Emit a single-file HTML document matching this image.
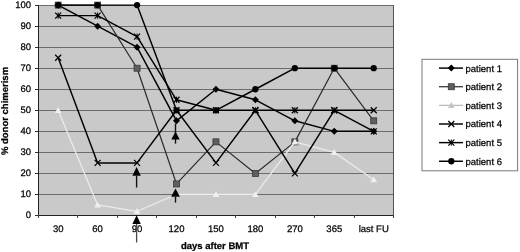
<!DOCTYPE html>
<html><head><meta charset="utf-8"><style>
html,body{margin:0;padding:0;background:#fff;}
body{width:520px;height:252px;overflow:hidden;}
svg{display:block;font-family:"Liberation Sans", sans-serif;will-change:transform;}
text{stroke:#000;stroke-width:0.25px;text-rendering:geometricPrecision;}
</style></head><body>
<svg width="520" height="252" viewBox="0 0 520 252">
<g>
<rect x="0" y="0" width="520" height="252" fill="#fff"/>
<rect x="38" y="5" width="355" height="210" fill="#c9c9c9"/>
<line x1="38" y1="5.5" x2="393" y2="5.5" stroke="#6c6c6c" stroke-width="1"/>
<line x1="38" y1="26.5" x2="393" y2="26.5" stroke="#6c6c6c" stroke-width="1"/>
<line x1="38" y1="47.5" x2="393" y2="47.5" stroke="#6c6c6c" stroke-width="1"/>
<line x1="38" y1="68.5" x2="393" y2="68.5" stroke="#6c6c6c" stroke-width="1"/>
<line x1="38" y1="89.5" x2="393" y2="89.5" stroke="#6c6c6c" stroke-width="1"/>
<line x1="38" y1="110.5" x2="393" y2="110.5" stroke="#6c6c6c" stroke-width="1"/>
<line x1="38" y1="131.5" x2="393" y2="131.5" stroke="#6c6c6c" stroke-width="1"/>
<line x1="38" y1="152.5" x2="393" y2="152.5" stroke="#6c6c6c" stroke-width="1"/>
<line x1="38" y1="173.5" x2="393" y2="173.5" stroke="#6c6c6c" stroke-width="1"/>
<line x1="38" y1="194.5" x2="393" y2="194.5" stroke="#6c6c6c" stroke-width="1"/>
<line x1="38" y1="215.5" x2="393" y2="215.5" stroke="#6c6c6c" stroke-width="1"/>
<line x1="393.5" y1="5" x2="393.5" y2="215" stroke="#555" stroke-width="1"/>
<line x1="38.5" y1="5" x2="38.5" y2="216" stroke="#222" stroke-width="1"/>
<line x1="38" y1="215.5" x2="394" y2="215.5" stroke="#222" stroke-width="1.2"/>
<line x1="35" y1="5.5" x2="38" y2="5.5" stroke="#333" stroke-width="1"/>
<text x="31" y="8.3" text-anchor="end" font-size="9.5">100</text>
<line x1="35" y1="26.5" x2="38" y2="26.5" stroke="#333" stroke-width="1"/>
<text x="31" y="29.3" text-anchor="end" font-size="9.5">90</text>
<line x1="35" y1="47.5" x2="38" y2="47.5" stroke="#333" stroke-width="1"/>
<text x="31" y="50.3" text-anchor="end" font-size="9.5">80</text>
<line x1="35" y1="68.5" x2="38" y2="68.5" stroke="#333" stroke-width="1"/>
<text x="31" y="71.3" text-anchor="end" font-size="9.5">70</text>
<line x1="35" y1="89.5" x2="38" y2="89.5" stroke="#333" stroke-width="1"/>
<text x="31" y="92.3" text-anchor="end" font-size="9.5">60</text>
<line x1="35" y1="110.5" x2="38" y2="110.5" stroke="#333" stroke-width="1"/>
<text x="31" y="113.3" text-anchor="end" font-size="9.5">50</text>
<line x1="35" y1="131.5" x2="38" y2="131.5" stroke="#333" stroke-width="1"/>
<text x="31" y="134.3" text-anchor="end" font-size="9.5">40</text>
<line x1="35" y1="152.5" x2="38" y2="152.5" stroke="#333" stroke-width="1"/>
<text x="31" y="155.3" text-anchor="end" font-size="9.5">30</text>
<line x1="35" y1="173.5" x2="38" y2="173.5" stroke="#333" stroke-width="1"/>
<text x="31" y="176.3" text-anchor="end" font-size="9.5">20</text>
<line x1="35" y1="194.5" x2="38" y2="194.5" stroke="#333" stroke-width="1"/>
<text x="31" y="197.3" text-anchor="end" font-size="9.5">10</text>
<line x1="35" y1="215.5" x2="38" y2="215.5" stroke="#333" stroke-width="1"/>
<text x="31" y="218.3" text-anchor="end" font-size="9.5">0</text>
<line x1="38.5" y1="215" x2="38.5" y2="218" stroke="#444" stroke-width="1"/>
<line x1="77.5" y1="215" x2="77.5" y2="218" stroke="#444" stroke-width="1"/>
<line x1="117.5" y1="215" x2="117.5" y2="218" stroke="#444" stroke-width="1"/>
<line x1="156.5" y1="215" x2="156.5" y2="218" stroke="#444" stroke-width="1"/>
<line x1="196.5" y1="215" x2="196.5" y2="218" stroke="#444" stroke-width="1"/>
<line x1="235.5" y1="215" x2="235.5" y2="218" stroke="#444" stroke-width="1"/>
<line x1="275.5" y1="215" x2="275.5" y2="218" stroke="#444" stroke-width="1"/>
<line x1="314.5" y1="215" x2="314.5" y2="218" stroke="#444" stroke-width="1"/>
<line x1="354.5" y1="215" x2="354.5" y2="218" stroke="#444" stroke-width="1"/>
<line x1="393.5" y1="215" x2="393.5" y2="218" stroke="#444" stroke-width="1"/>
<text x="58.17" y="231.9" text-anchor="middle" font-size="9.5">30</text>
<text x="97.62" y="231.9" text-anchor="middle" font-size="9.5">60</text>
<text x="137.06" y="231.9" text-anchor="middle" font-size="9.5">90</text>
<text x="176.51" y="231.9" text-anchor="middle" font-size="9.5">120</text>
<text x="215.95" y="231.9" text-anchor="middle" font-size="9.5">150</text>
<text x="255.39" y="231.9" text-anchor="middle" font-size="9.5">180</text>
<text x="294.84" y="231.9" text-anchor="middle" font-size="9.5">270</text>
<text x="334.28" y="231.9" text-anchor="middle" font-size="9.5">365</text>
<text x="373.73" y="231.9" text-anchor="middle" font-size="9.5">last FU</text>
<polyline points="58.17,5.10 97.62,26.14 137.06,47.18 176.51,120.82 215.95,89.26 255.39,99.78 294.84,120.82 334.28,131.34 373.73,131.34" fill="none" stroke="#000" stroke-width="1.45" stroke-linejoin="round"/>
<path d="M58.17 1.60L61.67 5.10L58.17 8.60L54.67 5.10Z" fill="#000"/>
<path d="M97.62 22.64L101.12 26.14L97.62 29.64L94.12 26.14Z" fill="#000"/>
<path d="M137.06 43.68L140.56 47.18L137.06 50.68L133.56 47.18Z" fill="#000"/>
<path d="M176.51 117.32L180.01 120.82L176.51 124.32L173.01 120.82Z" fill="#000"/>
<path d="M215.95 85.76L219.45 89.26L215.95 92.76L212.45 89.26Z" fill="#000"/>
<path d="M255.39 96.28L258.89 99.78L255.39 103.28L251.89 99.78Z" fill="#000"/>
<path d="M294.84 117.32L298.34 120.82L294.84 124.32L291.34 120.82Z" fill="#000"/>
<path d="M334.28 127.84L337.78 131.34L334.28 134.84L330.78 131.34Z" fill="#000"/>
<path d="M373.73 127.84L377.23 131.34L373.73 134.84L370.23 131.34Z" fill="#000"/>
<polyline points="58.17,5.10 97.62,5.10 137.06,68.22 176.51,183.94 215.95,141.86 255.39,173.42 294.84,141.86 334.28,68.22 373.73,120.82" fill="none" stroke="#2a2a2a" stroke-width="1.2" stroke-linejoin="round"/>
<rect x="55.17" y="2.10" width="6" height="6" fill="#5e5e5e" stroke="#383838" stroke-width="0.8"/>
<rect x="94.62" y="2.10" width="6" height="6" fill="#5e5e5e" stroke="#383838" stroke-width="0.8"/>
<rect x="134.06" y="65.22" width="6" height="6" fill="#5e5e5e" stroke="#383838" stroke-width="0.8"/>
<rect x="173.51" y="180.94" width="6" height="6" fill="#5e5e5e" stroke="#383838" stroke-width="0.8"/>
<rect x="212.95" y="138.86" width="6" height="6" fill="#5e5e5e" stroke="#383838" stroke-width="0.8"/>
<rect x="252.39" y="170.42" width="6" height="6" fill="#5e5e5e" stroke="#383838" stroke-width="0.8"/>
<rect x="291.84" y="138.86" width="6" height="6" fill="#5e5e5e" stroke="#383838" stroke-width="0.8"/>
<rect x="331.28" y="65.22" width="6" height="6" fill="#5e5e5e" stroke="#383838" stroke-width="0.8"/>
<rect x="370.73" y="117.82" width="6" height="6" fill="#5e5e5e" stroke="#383838" stroke-width="0.8"/>
<polyline points="58.17,110.30 97.62,204.98 137.06,211.29 176.51,194.46 215.95,194.46 255.39,194.46 294.84,141.86 334.28,152.38 373.73,179.73" fill="none" stroke="#ececec" stroke-width="1.25" stroke-linejoin="round"/>
<path d="M58.17 107.00L61.47 112.94L54.87 112.94Z" fill="#f0f0f0"/>
<path d="M97.62 201.68L100.92 207.62L94.32 207.62Z" fill="#f0f0f0"/>
<path d="M137.06 207.99L140.36 213.93L133.76 213.93Z" fill="#f0f0f0"/>
<path d="M176.51 191.16L179.81 197.10L173.21 197.10Z" fill="#f0f0f0"/>
<path d="M215.95 191.16L219.25 197.10L212.65 197.10Z" fill="#f0f0f0"/>
<path d="M255.39 191.16L258.69 197.10L252.09 197.10Z" fill="#f0f0f0"/>
<path d="M294.84 138.56L298.14 144.50L291.54 144.50Z" fill="#f0f0f0"/>
<path d="M334.28 149.08L337.58 155.02L330.98 155.02Z" fill="#f0f0f0"/>
<path d="M373.73 176.43L377.03 182.37L370.43 182.37Z" fill="#f0f0f0"/>
<polyline points="58.17,57.70 97.62,162.90 137.06,162.90 176.51,110.30 215.95,162.90 255.39,110.30 294.84,173.42 334.28,110.30 373.73,110.30" fill="none" stroke="#000" stroke-width="1.45" stroke-linejoin="round"/>
<path d="M55.17 54.70L61.17 60.70M61.17 54.70L55.17 60.70" stroke="#000" stroke-width="1.25" fill="none"/>
<path d="M94.62 159.90L100.62 165.90M100.62 159.90L94.62 165.90" stroke="#000" stroke-width="1.25" fill="none"/>
<path d="M134.06 159.90L140.06 165.90M140.06 159.90L134.06 165.90" stroke="#000" stroke-width="1.25" fill="none"/>
<path d="M173.51 107.30L179.51 113.30M179.51 107.30L173.51 113.30" stroke="#000" stroke-width="1.25" fill="none"/>
<path d="M212.95 159.90L218.95 165.90M218.95 159.90L212.95 165.90" stroke="#000" stroke-width="1.25" fill="none"/>
<path d="M252.39 107.30L258.39 113.30M258.39 107.30L252.39 113.30" stroke="#000" stroke-width="1.25" fill="none"/>
<path d="M291.84 170.42L297.84 176.42M297.84 170.42L291.84 176.42" stroke="#000" stroke-width="1.25" fill="none"/>
<path d="M331.28 107.30L337.28 113.30M337.28 107.30L331.28 113.30" stroke="#000" stroke-width="1.25" fill="none"/>
<path d="M370.73 107.30L376.73 113.30M376.73 107.30L370.73 113.30" stroke="#000" stroke-width="1.25" fill="none"/>
<polyline points="58.17,15.62 97.62,15.62 137.06,36.66 176.51,99.78 215.95,110.30 255.39,110.30 294.84,110.30 334.28,110.30 373.73,131.34" fill="none" stroke="#000" stroke-width="1.45" stroke-linejoin="round"/>
<path d="M55.17 12.62L61.17 18.62M61.17 12.62L55.17 18.62" stroke="#000" stroke-width="1.25" fill="none"/><path d="M58.17 12.52L58.17 18.72" stroke="#000" stroke-width="1.0" fill="none"/><circle cx="58.17" cy="15.62" r="1.2" fill="#000"/>
<path d="M94.62 12.62L100.62 18.62M100.62 12.62L94.62 18.62" stroke="#000" stroke-width="1.25" fill="none"/><path d="M97.62 12.52L97.62 18.72" stroke="#000" stroke-width="1.0" fill="none"/><circle cx="97.62" cy="15.62" r="1.2" fill="#000"/>
<path d="M134.06 33.66L140.06 39.66M140.06 33.66L134.06 39.66" stroke="#000" stroke-width="1.25" fill="none"/><path d="M137.06 33.56L137.06 39.76" stroke="#000" stroke-width="1.0" fill="none"/><circle cx="137.06" cy="36.66" r="1.2" fill="#000"/>
<path d="M173.51 96.78L179.51 102.78M179.51 96.78L173.51 102.78" stroke="#000" stroke-width="1.25" fill="none"/><path d="M176.51 96.68L176.51 102.88" stroke="#000" stroke-width="1.0" fill="none"/><circle cx="176.51" cy="99.78" r="1.2" fill="#000"/>
<path d="M212.95 107.30L218.95 113.30M218.95 107.30L212.95 113.30" stroke="#000" stroke-width="1.25" fill="none"/><path d="M215.95 107.20L215.95 113.40" stroke="#000" stroke-width="1.0" fill="none"/><circle cx="215.95" cy="110.30" r="1.2" fill="#000"/>
<path d="M252.39 107.30L258.39 113.30M258.39 107.30L252.39 113.30" stroke="#000" stroke-width="1.25" fill="none"/><path d="M255.39 107.20L255.39 113.40" stroke="#000" stroke-width="1.0" fill="none"/><circle cx="255.39" cy="110.30" r="1.2" fill="#000"/>
<path d="M291.84 107.30L297.84 113.30M297.84 107.30L291.84 113.30" stroke="#000" stroke-width="1.25" fill="none"/><path d="M294.84 107.20L294.84 113.40" stroke="#000" stroke-width="1.0" fill="none"/><circle cx="294.84" cy="110.30" r="1.2" fill="#000"/>
<path d="M331.28 107.30L337.28 113.30M337.28 107.30L331.28 113.30" stroke="#000" stroke-width="1.25" fill="none"/><path d="M334.28 107.20L334.28 113.40" stroke="#000" stroke-width="1.0" fill="none"/><circle cx="334.28" cy="110.30" r="1.2" fill="#000"/>
<path d="M370.73 128.34L376.73 134.34M376.73 128.34L370.73 134.34" stroke="#000" stroke-width="1.25" fill="none"/><path d="M373.73 128.24L373.73 134.44" stroke="#000" stroke-width="1.0" fill="none"/><circle cx="373.73" cy="131.34" r="1.2" fill="#000"/>
<polyline points="58.17,5.10 97.62,5.10 137.06,5.10 176.51,110.30 215.95,110.30 255.39,89.26 294.84,68.22 334.28,68.22 373.73,68.22" fill="none" stroke="#000" stroke-width="1.45" stroke-linejoin="round"/>
<circle cx="58.17" cy="5.10" r="3.15" fill="#000"/>
<circle cx="97.62" cy="5.10" r="3.15" fill="#000"/>
<circle cx="137.06" cy="5.10" r="3.15" fill="#000"/>
<circle cx="176.51" cy="110.30" r="3.15" fill="#000"/>
<circle cx="215.95" cy="110.30" r="3.15" fill="#000"/>
<circle cx="255.39" cy="89.26" r="3.15" fill="#000"/>
<circle cx="294.84" cy="68.22" r="3.15" fill="#000"/>
<circle cx="334.28" cy="68.22" r="3.15" fill="#000"/>
<circle cx="373.73" cy="68.22" r="3.15" fill="#000"/>
<line x1="136.6" y1="175.8" x2="136.6" y2="187.5" stroke="#111" stroke-width="1.4"/><path d="M136.6 167L140.79999999999998 175.8L132.4 175.8Z" fill="#000"/>
<line x1="136.6" y1="224" x2="136.6" y2="242.5" stroke="#4a4a4a" stroke-width="1.3"/><path d="M136.6 215.3L140.79999999999998 224L132.4 224Z" fill="#000"/>
<line x1="175.5" y1="196.8" x2="175.5" y2="202.6" stroke="#111" stroke-width="1.4"/><path d="M175.5 188.5L179.9 196.8L171.1 196.8Z" fill="#000"/>
<line x1="175.5" y1="123.5" x2="175.5" y2="143.6" stroke="#111" stroke-width="1.4"/><path d="M175.5 131.5L179.7 139.5L171.3 139.5Z" fill="#000"/>
<text x="215" y="248.7" text-anchor="middle" font-size="9.5" font-weight="bold">days after BMT</text>
<text transform="translate(8.3 111) rotate(-90)" text-anchor="middle" font-size="9.5" font-weight="bold">% donor chimerism</text>
<rect x="422" y="59.3" width="95.6" height="111.5" fill="#fff" stroke="#787878" stroke-width="1"/>
<line x1="439" y1="68.10" x2="463" y2="68.10" stroke="#000" stroke-width="1.45"/>
<path d="M451.30 64.60L454.80 68.10L451.30 71.60L447.80 68.10Z" fill="#000"/>
<text x="465.5" y="71.50" font-size="9.5">patient 1</text>
<line x1="439" y1="86.73" x2="463" y2="86.73" stroke="#2a2a2a" stroke-width="1.2"/>
<rect x="448.30" y="83.73" width="6" height="6" fill="#5e5e5e" stroke="#383838" stroke-width="0.8"/>
<text x="465.5" y="90.13" font-size="9.5">patient 2</text>
<line x1="439" y1="105.36" x2="463" y2="105.36" stroke="#bcbcbc" stroke-width="1.25"/>
<path d="M451.30 102.06L454.60 108.00L448.00 108.00Z" fill="#c4c4c4"/>
<text x="465.5" y="108.76" font-size="9.5">patient 3</text>
<line x1="439" y1="123.99" x2="463" y2="123.99" stroke="#000" stroke-width="1.45"/>
<path d="M448.30 120.99L454.30 126.99M454.30 120.99L448.30 126.99" stroke="#000" stroke-width="1.25" fill="none"/>
<text x="465.5" y="127.39" font-size="9.5">patient 4</text>
<line x1="439" y1="142.62" x2="463" y2="142.62" stroke="#000" stroke-width="1.45"/>
<path d="M448.30 139.62L454.30 145.62M454.30 139.62L448.30 145.62" stroke="#000" stroke-width="1.25" fill="none"/><path d="M451.30 139.52L451.30 145.72" stroke="#000" stroke-width="1.0" fill="none"/><circle cx="451.30" cy="142.62" r="1.2" fill="#000"/>
<text x="465.5" y="146.02" font-size="9.5">patient 5</text>
<line x1="439" y1="161.25" x2="463" y2="161.25" stroke="#000" stroke-width="1.45"/>
<circle cx="451.30" cy="161.25" r="3.15" fill="#000"/>
<text x="465.5" y="164.65" font-size="9.5">patient 6</text>
</g>
</svg>
</body></html>
